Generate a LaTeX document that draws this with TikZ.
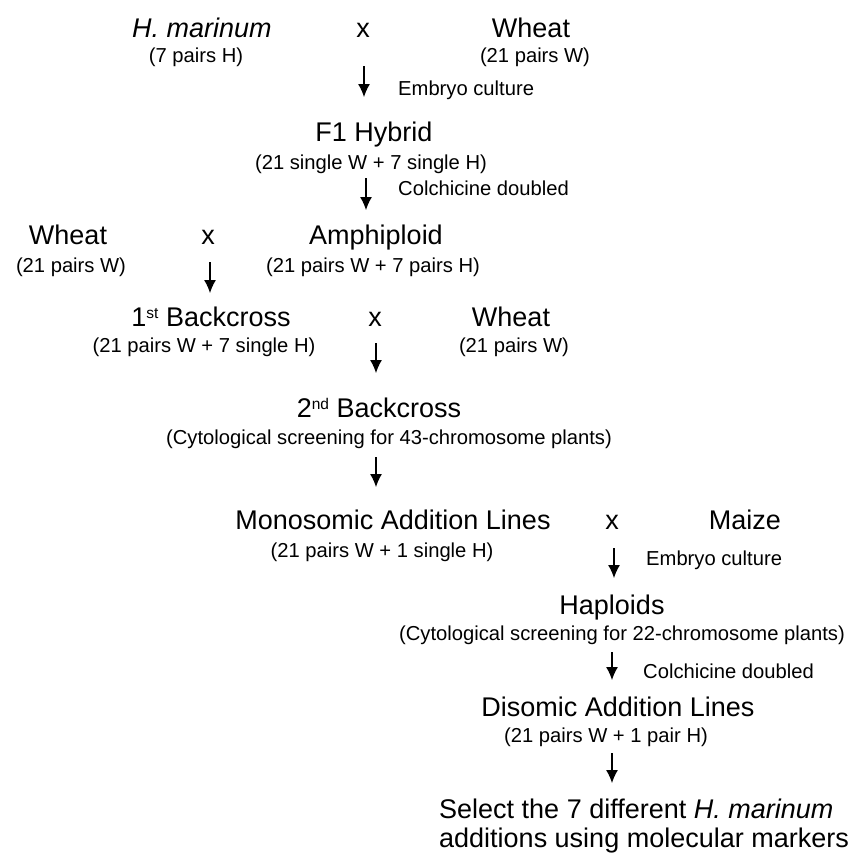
\documentclass[tikz,border=0pt]{standalone}
\usepackage{fontspec}
\setmainfont{Liberation Sans}
\usetikzlibrary{arrows.meta}

\newcommand{\ordsup}[1]% ordinal ending
{\raisebox{8.5pt}{\fontsize{15.5}{16}\selectfont #1}}

\tikzset{
  big/.style={inner sep=0pt, font=\fontsize{27}{30}\selectfont, text height=19.3pt, text depth=0pt},
  small/.style={inner sep=0pt, font=\fontsize{20.2}{24}\selectfont, text height=14.5pt, text depth=0pt},
  cross/.style={-{Latex[length=13pt,width=12pt]}, line width=1.1pt}
}

\begin{document}
\begin{tikzpicture}[x=1pt,y=-1pt]

\useasboundingbox (0,0) rectangle (860,854);

% H. marinum x wheat
\node[big] (hmar) at (202,28) {\textit{H. marinum}};
\node[small] (hmarC) at (196,55) {(7 pairs H)};
\node[big] (crossA) at (363,28) {x};
\node[big] (wheatA) at (531,28) {Wheat};
\node[small] (wheatAC) at (535,55) {(21 pairs W)};

\coordinate (arrA1) at (364,66);
\coordinate (arrA2) at (364,97);
\draw[cross] (arrA1) -- (arrA2);
\node[small, anchor=west] (embA) at (398,88) {Embryo culture};

% F1 hybrid
\node[big] (fone) at (374,132) {F1 Hybrid};
\node[small] (foneC) at (371,162) {(21 single W + 7 single H)};

\coordinate (arrB1) at (366,178);
\coordinate (arrB2) at (366,210);
\draw[cross] (arrB1) -- (arrB2);
\node[small, anchor=west] (colA) at (398,188) {Colchicine doubled};

% wheat x amphiploid
\node[big] (wheatB) at (68,235) {Wheat};
\node[small] (wheatBC) at (71,265) {(21 pairs W)};
\node[big] (crossB) at (208,235) {x};
\node[big] (amph) at (376,235) {Amphiploid};
\node[small] (amphC) at (373,265) {(21 pairs W + 7 pairs H)};

\coordinate (arrC1) at (210,262);
\coordinate (arrC2) at (210,293);
\draw[cross] (arrC1) -- (arrC2);

% 1st backcross x wheat
\node[big] (bcone) at (211,317) {1\ordsup{st} Backcross};
\node[small] (bconeC) at (204,345) {(21 pairs W + 7 single H)};
\node[big] (crossC) at (375,317) {x};
\node[big] (wheatC) at (511,317) {Wheat};
\node[small] (wheatCC) at (514,345) {(21 pairs W)};

\coordinate (arrD1) at (376,343);
\coordinate (arrD2) at (376,373);
\draw[cross] (arrD1) -- (arrD2);

% 2nd backcross
\node[big] (bctwo) at (379,408) {2\ordsup{nd} Backcross};
\node[small] (bctwoC) at (389,437) {(Cytological screening for 43-chromosome plants)};

\coordinate (arrE1) at (376,457);
\coordinate (arrE2) at (376,487);
\draw[cross] (arrE1) -- (arrE2);

% monosomic lines x maize
\node[big] (mono) at (393,520) {Monosomic Addition Lines};
\node[small] (monoC) at (382,550) {(21 pairs W + 1 single H)};
\node[big] (crossD) at (612,520) {x};
\node[big] (maize) at (745,520) {Maize};

\coordinate (arrF1) at (614,548);
\coordinate (arrF2) at (614,578);
\draw[cross] (arrF1) -- (arrF2);
\node[small, anchor=west] (embB) at (646,558) {Embryo culture};

% haploids
\node[big] (hap) at (612,605) {Haploids};
\node[small] (hapC) at (622,633) {(Cytological screening for 22-chromosome plants)};

\coordinate (arrG1) at (612,652);
\coordinate (arrG2) at (612,680);
\draw[cross] (arrG1) -- (arrG2);
\node[small, anchor=west] (colB) at (643,671) {Colchicine doubled};

% disomic lines
\node[big] (dis) at (618,707) {Disomic Addition Lines};
\node[small] (disC) at (606,735) {(21 pairs W + 1 pair H)};

\coordinate (arrH1) at (612,753);
\coordinate (arrH2) at (612,783);
\draw[cross] (arrH1) -- (arrH2);

\node[big, anchor=west] (selA) at (439,809) {Select the 7 different \textit{H. marinum}};
\node[big, anchor=west] (selB) at (439,838) {additions using molecular markers};

\end{tikzpicture}
\end{document}
